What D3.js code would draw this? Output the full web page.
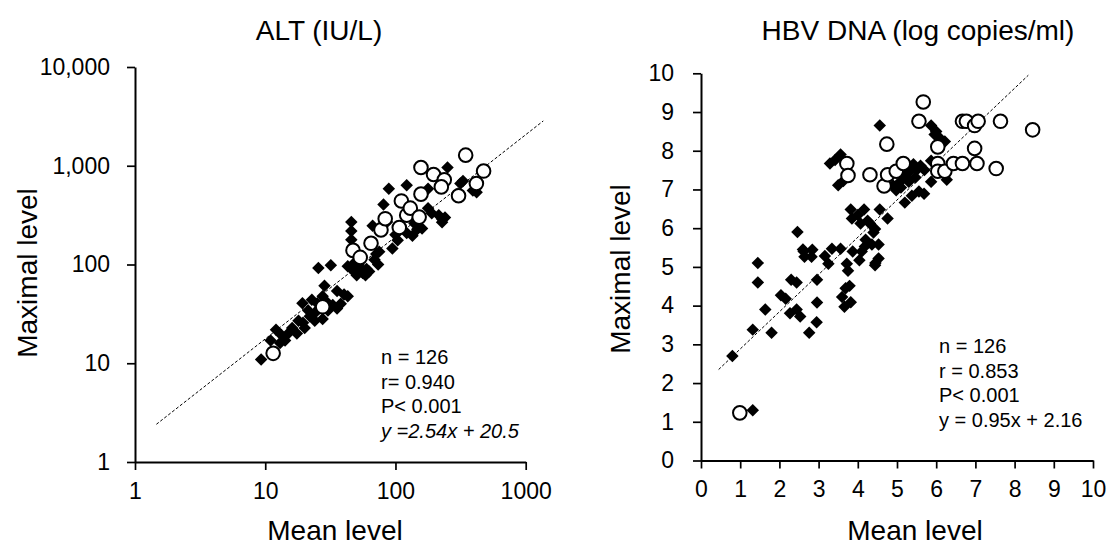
<!DOCTYPE html>
<html>
<head>
<meta charset="utf-8">
<script src="https://cdn.jsdelivr.net/npm/d3@7"></script>
<style>
  body { margin: 0; background: #fff; }
  svg { font-family: "Liberation Sans", Arial, sans-serif; }
</style>
</head>
<body>
<svg width="1108" height="548"></svg>
<script>
// ALT panel (log-log)
const altTicks = [1, 10, 100, 1000];
const altYTicks = [1, 10, 100, 1000, 10000];
const altFilled = [
  [9.3, 10.9], [11.0, 17], [12.1, 21.8], [13.3, 19.3], [14.2, 17], [16.1, 22.8],
  [19.5, 25.7], [20.1, 22.8], [19.3, 40.5], [21.4, 34.3], [22.8, 44], [25.6, 92],
  [31.9, 98], [23.6, 31.6], [25.1, 40.5], [27.6, 47.7], [28.5, 61], [27.6, 28],
  [30.3, 34.3], [35.6, 54], [35.6, 35.8], [40.3, 49.7], [43, 47.7], [45.8, 269],
  [45.8, 219], [45.8, 178], [43, 96], [50.4, 78], [53.6, 92], [58.9, 78],
  [62.8, 85], [66.8, 247], [71.2, 128], [73.6, 100], [80.9, 405], [88.9, 586],
  [94.7, 145], [86, 269], [122, 634], [122, 209], [147, 228], [178, 372],
  [178, 586], [215, 316], [229, 288], [251, 960], [315, 661], [393, 562],
  [17.5, 20], [24, 27], [33, 39], [48, 85], [56, 82], [69, 112], [104, 176],
  [135, 196], [160, 232], [228, 268], [420, 540],
  [15, 20], [18, 27], [22, 30], [26, 36], [29, 43], [38, 40], [52, 100],
  [60, 90], [75, 135], [100, 200], [140, 260], [190, 330], [240, 300],
  [330, 700], [47, 100], [13, 16]
];
const altOpen = [
  [11.5, 12.6], [27.6, 37.3], [47.2, 139], [53.6, 118], [64.9, 164], [77.4, 224],
  [83.4, 291], [107, 237], [111, 440], [122, 316], [130, 372], [157, 960],
  [157, 516], [152, 302], [196, 815], [237, 720], [225, 611], [305, 497],
  [346, 1280], [418, 661], [475, 884]
];
const altFit = [[1.46, 2.41], [1364, 2843]];
const altStats = ["n = 126", "r= 0.940", "P< 0.001", "y =2.54x + 20.5"];

// HBV DNA panel (linear)
const hbvTicks = [0, 1, 2, 3, 4, 5, 6, 7, 8, 9, 10];
const hbvFilled = [
  [0.8, 2.7], [1.32, 3.38], [1.45, 5.1], [1.45, 4.6], [1.64, 3.9], [1.8, 3.3],
  [1.32, 1.3], [2.04, 4.27], [2.16, 4.18], [2.27, 3.8], [2.3, 4.67], [2.44, 4.6],
  [2.44, 3.9], [2.53, 3.72], [2.76, 3.3], [2.95, 3.57], [2.96, 4.08], [2.96, 4.67],
  [2.46, 5.9], [2.62, 5.4], [2.84, 5.44], [2.64, 5.26], [2.82, 5.26], [3.16, 5.28],
  [3.25, 5.08], [3.34, 5.47], [3.56, 5.47], [3.29, 7.67], [3.42, 7.76], [3.56, 7.9],
  [3.5, 7.11], [3.63, 7.22], [3.69, 4.45], [3.79, 4.51], [3.6, 4.22], [3.66, 3.97],
  [3.82, 4.09], [3.72, 5.08], [3.75, 4.9], [3.87, 5.4], [3.82, 6.48], [3.85, 6.25],
  [4.0, 6.34], [4.04, 5.17], [4.1, 5.4], [4.07, 6.12], [4.16, 6.48], [4.25, 6.19],
  [4.31, 6.12], [4.18, 5.53], [4.36, 5.58], [4.4, 5.89], [4.44, 5.98], [4.53, 5.58],
  [4.44, 5.04], [4.53, 5.22], [4.56, 6.48], [4.56, 8.65], [4.76, 6.25], [4.98, 6.98],
  [5.08, 7.2], [5.2, 7.34], [5.33, 7.47], [5.42, 7.65], [5.47, 7.31], [5.56, 6.95],
  [5.69, 6.89], [5.6, 7.61], [5.2, 6.66], [5.38, 6.84], [5.87, 7.2], [5.87, 8.65],
  [5.96, 8.42], [6.09, 8.33], [6.22, 8.24], [6.27, 7.25], [5.87, 7.74], [5.1, 7.05],
  [5.5, 7.5], [6.0, 8.5], [4.9, 7.1], [5.3, 7.2], [5.7, 7.5], [4.2, 5.7],
  [2.6, 5.45], [4.45, 5.1]
];
const hbvOpen = [
  [0.99, 1.23], [3.72, 7.67], [3.75, 7.36], [4.31, 7.38], [4.67, 7.09], [4.76, 7.38],
  [4.74, 8.17], [4.98, 7.47], [5.16, 7.67], [5.56, 8.76], [5.67, 9.26], [6.04, 8.1],
  [6.04, 7.67], [6.04, 7.47], [6.22, 7.47], [6.44, 7.67], [6.67, 7.67], [6.67, 8.76],
  [6.77, 8.76], [6.98, 8.65], [7.07, 8.76], [6.98, 8.06], [7.04, 7.67], [7.53, 7.54],
  [7.64, 8.76], [8.46, 8.54]
];
const hbvFit = [[0.45, 2.35], [8.35, 9.95]];
const hbvStats = ["n = 126", "r = 0.853", "P< 0.001", "y = 0.95x + 2.16"];

const svg = d3.select("svg");
const diamond = d3.symbol().type(d3.symbolSquare).size(78);

function panel(opt) {
    const g = svg.append("g");
    const x = opt.x, y = opt.y;

    const xAxis = g.append("g")
        .attr("transform", `translate(0,${y.range()[0]})`)
        .call(d3.axisBottom(x).tickValues(opt.xTicks).tickFormat(opt.xFmt)
            .tickSize(8).tickSizeOuter(0).tickPadding(opt.xPad));
    const yAxis = g.append("g")
        .attr("transform", `translate(${x.range()[0]},0)`)
        .call(d3.axisLeft(y).tickValues(opt.yTicks).tickFormat(opt.yFmt)
            .tickSize(8).tickSizeOuter(0).tickPadding(opt.yPad));
    [xAxis, yAxis].forEach(a => {
        a.select(".domain").attr("stroke", "#000").attr("stroke-width", 2);
        a.selectAll(".tick line").attr("stroke", "#000").attr("stroke-width", 1.7);
        a.selectAll(".tick text").attr("fill", "#000")
            .style("font-size", "23px").style("font-family", "Liberation Sans, Arial, sans-serif");
    });

    // regression line
    g.append("line")
        .attr("x1", x(opt.fit[0][0])).attr("y1", y(opt.fit[0][1]))
        .attr("x2", x(opt.fit[1][0])).attr("y2", y(opt.fit[1][1]))
        .attr("stroke", "#000").attr("stroke-width", 1)
        .attr("stroke-dasharray", "3,2");

    g.selectAll("path.f").data(opt.filled).enter().append("path")
        .attr("class", "f")
        .attr("d", diamond)
        .attr("transform", d => `translate(${x(d[0])},${y(d[1])}) rotate(45)`)
        .attr("fill", "#000");

    g.selectAll("circle.o").data(opt.open).enter().append("circle")
        .attr("class", "o")
        .attr("cx", d => x(d[0])).attr("cy", d => y(d[1]))
        .attr("r", 6.8)
        .attr("fill", "#fff").attr("stroke", "#000").attr("stroke-width", 2);

    g.append("text")
        .attr("x", opt.titleX).attr("y", 40)
        .attr("text-anchor", "middle").style("font-size", "28px")
        .text(opt.title);

    g.append("text")
        .attr("transform", `translate(${opt.yLabelX},${opt.yLabelY}) rotate(-90)`)
        .attr("text-anchor", "middle").style("font-size", "28px")
        .text("Maximal level");

    g.append("text")
        .attr("x", opt.xLabelX).attr("y", 540)
        .attr("text-anchor", "middle").style("font-size", "28px")
        .text("Mean level");

    g.selectAll("text.stat").data(opt.stats).enter().append("text")
        .attr("class", "stat")
        .attr("x", opt.statX)
        .attr("y", (d, i) => opt.statY + i * 24.6)
        .style("font-size", "20px")
        .style("font-style", (d, i) => i === 3 && opt.italicEq ? "italic" : "normal")
        .text(d => d);
}

panel({
    x: d3.scaleLog().domain([1, 1000]).range([135, 525.7]),
    y: d3.scaleLog().domain([1, 10000]).range([462, 67]),
    xTicks: altTicks, yTicks: altYTicks,
    xFmt: d3.format("d"), yFmt: d3.format(","),
    xPad: 13, yPad: 17,
    filled: altFilled, open: altOpen, fit: altFit,
    title: "ALT (IU/L)", titleX: 319,
    yLabelX: 37, yLabelY: 273, xLabelX: 335,
    stats: altStats, statX: 381, statY: 364, italicEq: true
});

panel({
    x: d3.scaleLinear().domain([0, 10]).range([701, 1093]),
    y: d3.scaleLinear().domain([0, 10]).range([460.5, 73.3]),
    xTicks: hbvTicks, yTicks: hbvTicks,
    xFmt: d3.format("d"), yFmt: d3.format("d"),
    xPad: 12, yPad: 19,
    filled: hbvFilled, open: hbvOpen, fit: hbvFit,
    title: "HBV DNA (log copies/ml)", titleX: 918,
    yLabelX: 630, yLabelY: 269, xLabelX: 915,
    stats: hbvStats, statX: 939, statY: 353, italicEq: false
});
</script>
</body>
</html>
